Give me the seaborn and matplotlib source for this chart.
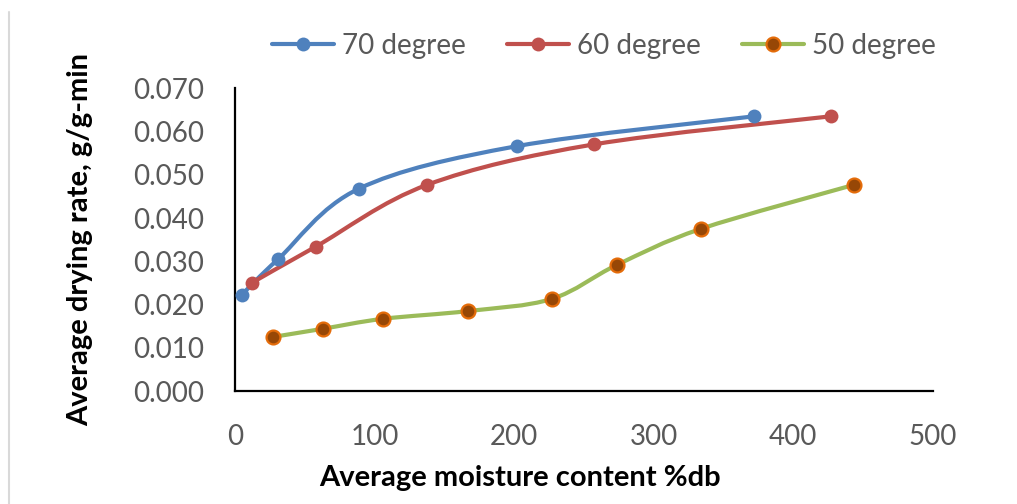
import matplotlib
matplotlib.use("Agg")
import matplotlib.pyplot as plt
from matplotlib.lines import Line2D
from matplotlib.path import Path
from matplotlib.patches import PathPatch
import numpy as np
import pandas as pd
import seaborn as sns

# data
moist_70 = [5, 31, 89, 202, 372]
rate_70 = [0.0223, 0.0305, 0.0468, 0.0566, 0.0635]

moist_60 = [12, 58, 138, 257, 427]
rate_60 = [0.0250, 0.0334, 0.0477, 0.0570, 0.0635]

moist_50 = [27, 63, 106, 167, 227, 274, 334, 444]
rate_50 = [0.0125, 0.0144, 0.0167, 0.0185, 0.0213, 0.0292, 0.0375, 0.0477]

series_names = ["70 degree", "60 degree", "50 degree"]
x_ticks = [0, 100, 200, 300, 400, 500]
y_ticks = [0.0, 0.01, 0.02, 0.03, 0.04, 0.05, 0.06, 0.07]

df = pd.concat([
    pd.DataFrame({"x": moist_70, "y": rate_70, "series": series_names[0]}),
    pd.DataFrame({"x": moist_60, "y": rate_60, "series": series_names[1]}),
    pd.DataFrame({"x": moist_50, "y": rate_50, "series": series_names[2]}),
])

sns.set_style("white")
plt.rcParams["font.family"] = ["Lato", "DejaVu Sans"]

line_colors = {"70 degree": "#4F81BD", "60 degree": "#C0504D", "50 degree": "#9BBB59"}
marker_face = {"70 degree": "#4F81BD", "60 degree": "#C0504D", "50 degree": "#974706"}
marker_edge = {"70 degree": "#4F81BD", "60 degree": "#C0504D", "50 degree": "#E46C0A"}
LW = 3.0
MS = 10


def smooth_path(xs, ys):
    # Excel-style smoothed line: cubic bezier segments through the points
    pts = np.column_stack([xs, ys]).astype(float)
    n = len(pts)
    verts = [pts[0]]
    codes = [Path.MOVETO]
    for i in range(n - 1):
        p0 = pts[i - 1] if i > 0 else pts[i]
        p3 = pts[i + 2] if i + 2 < n else pts[i + 1]
        c1 = pts[i] + (pts[i + 1] - p0) / 6
        c2 = pts[i + 1] - (p3 - pts[i]) / 6
        verts += [c1, c2, pts[i + 1]]
        codes += [Path.CURVE4] * 3
    return Path(verts, codes)


fig = plt.figure(figsize=(10.17, 5.04), dpi=100)
ax = fig.add_axes([0.231, 0.224, 0.686, 0.601])

handles = []
for name in series_names:
    sub = df[df["series"] == name]
    ax.add_patch(PathPatch(smooth_path(sub["x"], sub["y"]), facecolor="none",
                           edgecolor=line_colors[name], linewidth=LW,
                           capstyle="round", zorder=2))
    mew = 1.6 if name == "50 degree" else 0
    sns.lineplot(data=sub, x="x", y="y", ax=ax, linestyle="none",
                 marker="o", markersize=MS,
                 markerfacecolor=marker_face[name],
                 markeredgecolor=marker_edge[name],
                 markeredgewidth=mew, sort=False, estimator=None, zorder=3)
    handles.append(Line2D([], [], color=line_colors[name], linewidth=LW,
                          marker="o", markersize=MS,
                          markerfacecolor=marker_face[name],
                          markeredgecolor=marker_edge[name],
                          markeredgewidth=mew))

ax.set_xlim(0, 500)
ax.set_ylim(0, 0.07)
ax.set_xticks(x_ticks)
ax.set_yticks(y_ticks)
ax.set_yticklabels([f"{v:.3f}" for v in y_ticks])
ax.tick_params(axis="both", length=0, labelsize=20, colors="#595959")
ax.tick_params(axis="y", pad=22)
ax.tick_params(axis="x", pad=24)

for side in ["top", "right"]:
    ax.spines[side].set_visible(False)
for side in ["left", "bottom"]:
    ax.spines[side].set_color("black")
    ax.spines[side].set_linewidth(1.6)

ax.set_xlabel("Average moisture content %db", fontsize=21, fontweight="bold",
              color="black")
ax.xaxis.set_label_coords(0.408, -0.245)
ax.set_ylabel("Average drying rate, g/g-min", fontsize=21, fontweight="bold",
              color="black")
ax.yaxis.set_label_coords(-0.203, 0.5)

fig.legend(handles, series_names, loc="center", ncol=3, frameon=False,
           bbox_to_anchor=(0.594, 0.909), fontsize=20, labelcolor="#595959",
           handlelength=2.2, handletextpad=0.3, columnspacing=1.5)

# thin grey border on the left edge of the original image
fig.add_artist(Line2D([0.009, 0.009], [0.0, 0.976], color="#D9D9D9",
                      linewidth=1.5, transform=fig.transFigure))

fig.savefig("out.png", dpi=100)
